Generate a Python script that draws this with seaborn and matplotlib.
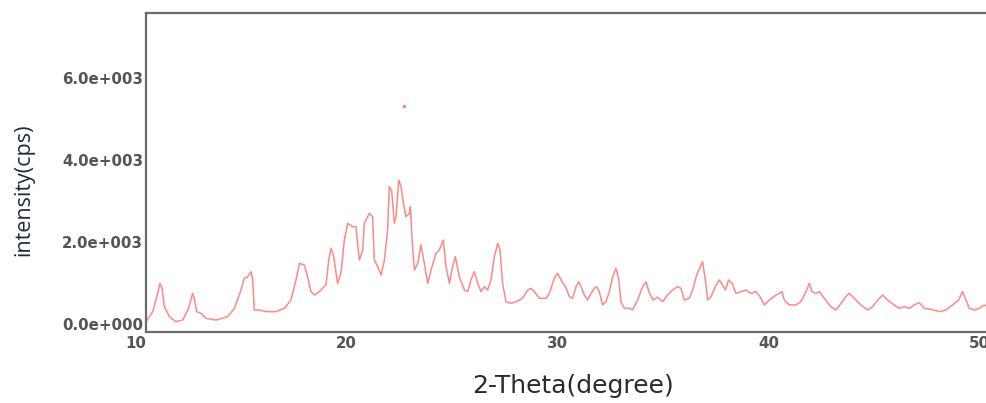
import matplotlib
matplotlib.use("Agg")
import matplotlib.pyplot as plt
import seaborn as sns
import pandas as pd

# ---- data (2-theta in degrees, intensity in cps) ----
two_theta = [
    10.00, 10.32, 10.55, 10.66, 10.76, 10.87, 11.11, 11.42, 11.74, 12.02,
    12.21, 12.29, 12.40, 12.61, 12.84, 13.32, 13.87, 14.19, 14.50, 14.66,
    14.82, 14.98, 15.06, 15.13, 15.37, 15.69, 16.16, 16.56, 16.87, 17.11,
    17.27, 17.50, 17.66, 17.82, 17.98, 18.21, 18.53, 18.66, 18.77, 18.88,
    19.08, 19.24, 19.40, 19.56, 19.79, 19.95, 20.11, 20.27, 20.35, 20.58,
    20.74, 20.82, 20.98, 21.14, 21.30, 21.45, 21.53, 21.64, 21.77, 21.85,
    21.98, 22.09, 22.17, 22.32, 22.48, 22.53, 22.61, 22.72, 22.88, 23.03,
    23.19, 23.35, 23.51, 23.74, 23.90, 24.09, 24.22, 24.38, 24.53, 24.66,
    24.85, 25.09, 25.25, 25.40, 25.56, 25.72, 25.88, 26.04, 26.19, 26.35,
    26.51, 26.67, 26.78, 26.90, 27.06, 27.30, 27.54, 27.85, 28.09, 28.25,
    28.41, 28.64, 28.96, 29.12, 29.35, 29.51, 29.67, 29.90, 30.06, 30.22,
    30.38, 30.51, 30.62, 30.77, 30.93, 31.09, 31.25, 31.36, 31.48, 31.64,
    31.80, 31.96, 32.12, 32.27, 32.40, 32.51, 32.67, 32.91, 33.06, 33.30,
    33.54, 33.70, 33.86, 34.04, 34.25, 34.49, 34.72, 34.96, 35.20, 35.35,
    35.51, 35.75, 35.91, 36.10, 36.27, 36.38, 36.51, 36.62, 36.78, 36.98,
    37.17, 37.33, 37.46, 37.61, 37.77, 37.96, 38.20, 38.44, 38.67, 38.91,
    39.10, 39.30, 39.54, 39.86, 40.02, 40.14, 40.25, 40.49, 40.80, 41.04,
    41.28, 41.44, 41.56, 41.75, 41.91, 42.15, 42.46, 42.70, 42.94, 43.17,
    43.33, 43.57, 43.88, 44.20, 44.44, 44.68, 44.91, 45.15, 45.46, 45.70,
    45.94, 46.18, 46.41, 46.65, 46.89, 47.20, 47.60, 47.91, 48.23, 48.51,
    48.70, 48.86, 49.02, 49.26, 49.49, 49.73, 49.82,
]
intensity = [
    57, 301, 748, 992, 870, 423, 179, 57, 97, 382,
    748, 626, 301, 260, 138, 97, 179, 382, 829, 1114,
    1154, 1276, 1073, 341, 341, 301, 301, 382, 585, 1073,
    1480, 1439, 1154, 788, 707, 788, 951, 1561, 1845, 1683,
    992, 1236, 2049, 2455, 2374, 2374, 1561, 1805, 2455, 2699,
    2618, 1561, 1398, 1195, 1561, 2292, 3349, 3268, 2455, 2618,
    3512, 3349, 3024, 2618, 2699, 2862, 2049, 1317, 1480, 1927,
    1480, 992, 1317, 1723, 1805, 2049, 1398, 992, 1398, 1642,
    1154, 829, 788, 1073, 1276, 992, 788, 910, 829, 1073,
    1642, 1967, 1805, 992, 544, 504, 544, 626, 829, 870,
    788, 626, 626, 748, 1114, 1236, 1073, 890, 667, 626,
    911, 1033, 911, 708, 586, 748, 870, 911, 789, 464,
    545, 789, 1155, 1358, 1114, 545, 383, 383, 342, 586,
    911, 1033, 748, 586, 651, 545, 708, 830, 911, 870,
    586, 626, 830, 1196, 1399, 1521, 1074, 586, 667, 911,
    1074, 952, 830, 1074, 992, 748, 789, 830, 748, 789,
    667, 464, 586, 707, 748, 789, 585, 464, 464, 545,
    789, 992, 789, 748, 789, 626, 423, 342, 504, 667,
    748, 626, 464, 342, 423, 585, 707, 585, 464, 382,
    423, 382, 464, 520, 382, 358, 301, 342, 464, 585,
    789, 585, 382, 342, 382, 464, 440,
]
outlier_theta = [22.24]
outlier_intensity = [5300]

xticks = [10, 20, 30, 40, 50]
xtick_labels = ["10", "20", "30", "40", "50"]
yticks = [0, 2000, 4000, 6000]
ytick_labels = ["0.0e+000", "2.0e+003", "4.0e+003", "6.0e+003"]

df = pd.DataFrame({"theta": two_theta, "intensity": intensity})
df_out = pd.DataFrame({"theta": outlier_theta, "intensity": outlier_intensity})

sns.set_theme(style="white")
plt.rcParams["font.family"] = ["DejaVu Sans"]

W, H = 986, 403
fig = plt.figure(figsize=(W / 100, H / 100), dpi=100)
ax = fig.add_axes([146 / W, 1 - 331.7 / H, 844 / W, 319 / H])

line_color = "#ff6060"
sns.lineplot(data=df, x="theta", y="intensity", ax=ax, color=line_color,
             linewidth=1.1, alpha=0.75, estimator=None, sort=False)
sns.scatterplot(data=df_out, x="theta", y="intensity", ax=ax, color=line_color,
                s=5, marker="s", edgecolor="none", alpha=0.8)

ax.set_xlim(10, 50)
ax.set_ylim(-188, 7593)

ax.set_xticks(xticks)
ax.set_xticklabels(xtick_labels, ha="right")
ax.set_yticks(yticks)
ax.set_yticklabels(ytick_labels)

ax.tick_params(axis="x", length=2, width=1, color="#777777", pad=1,
               labelsize=10.8, labelcolor="#555555")
ax.tick_params(axis="y", length=0, pad=2, labelsize=10.8, labelcolor="#555555")
for lab in ax.get_xticklabels() + ax.get_yticklabels():
    lab.set_fontweight("bold")

for side in ["left", "bottom", "top", "right"]:
    ax.spines[side].set_color("#6a6a6a")
    ax.spines[side].set_linewidth(1.6)

ax.set_xlabel("2-Theta(degree)", fontsize=18, color="#2b2b2b",
              family=["DejaVu Sans"])
ax.set_ylabel("intensity(cps)", fontsize=15.5, color="#1c2a40",
              family=["Open Sans", "DejaVu Sans"])
ax.xaxis.set_label_coords((573 - 146) / 844, (331.7 - 374) / 319)
ax.yaxis.set_label_coords((34 - 146) / 844, (331.7 - 190) / 319)

fig.savefig("out.png", dpi=100)
